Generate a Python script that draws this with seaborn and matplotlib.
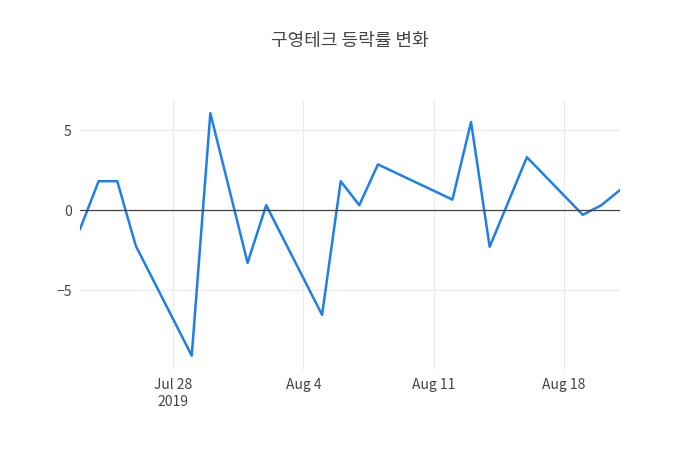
import numpy as np
import pandas as pd
import matplotlib.pyplot as plt
import matplotlib.dates as mdates
import seaborn as sns

dates = ['2019-07-23', '2019-07-24', '2019-07-25', '2019-07-26', '2019-07-29', '2019-07-30',
         '2019-08-01', '2019-08-02', '2019-08-05', '2019-08-06', '2019-08-07', '2019-08-08',
         '2019-08-12', '2019-08-13', '2019-08-14', '2019-08-16', '2019-08-19', '2019-08-20',
         '2019-08-21']
change = [-1.2, 1.8, 1.8, -2.25, -9.1, 6.05, -3.3, 0.3, -6.55, 1.8, 0.3, 2.85,
          0.65, 5.5, -2.3, 3.3, -0.3, 0.3, 1.25]

df = pd.DataFrame({'date': pd.to_datetime(dates), 'change': change})

sns.set_style('white')
plt.rcParams['font.family'] = ['Noto Sans CJK KR', 'DejaVu Sans']

fig = plt.figure(figsize=(7, 4.5), dpi=100)
ax = fig.add_axes([80/700, 80/450, 540/700, 270/450])
sns.lineplot(data=df, x='date', y='change', ax=ax, color='#1f7fe8', linewidth=1.8)
ax.axhline(0, color='#444444', linewidth=0.9)

ax.set_xlim(pd.Timestamp('2019-07-23'), pd.Timestamp('2019-08-21'))
ax.set_ylim(-10, 6.875)
ax.set_yticks([-5, 0, 5])
ax.set_yticklabels(['−5', '0', '5'])
ticks = pd.to_datetime(['2019-07-28', '2019-08-04', '2019-08-11', '2019-08-18'])
ax.set_xticks(ticks)
ax.set_xticklabels(['Jul 28\n2019', 'Aug 4', 'Aug 11', 'Aug 18'])
ax.grid(True, color='#ebebeb', linewidth=0.8)
ax.set_axisbelow(True)
for s in ax.spines.values():
    s.set_visible(False)
ax.tick_params(length=0, labelsize=10, labelcolor='#444444', pad=6)
ax.set_xlabel('')
ax.set_ylabel('')
fig.suptitle('구영테크 등락률 변화', y=0.93, fontsize=13, color='#444444')

fig.savefig('out.png', dpi=100)
